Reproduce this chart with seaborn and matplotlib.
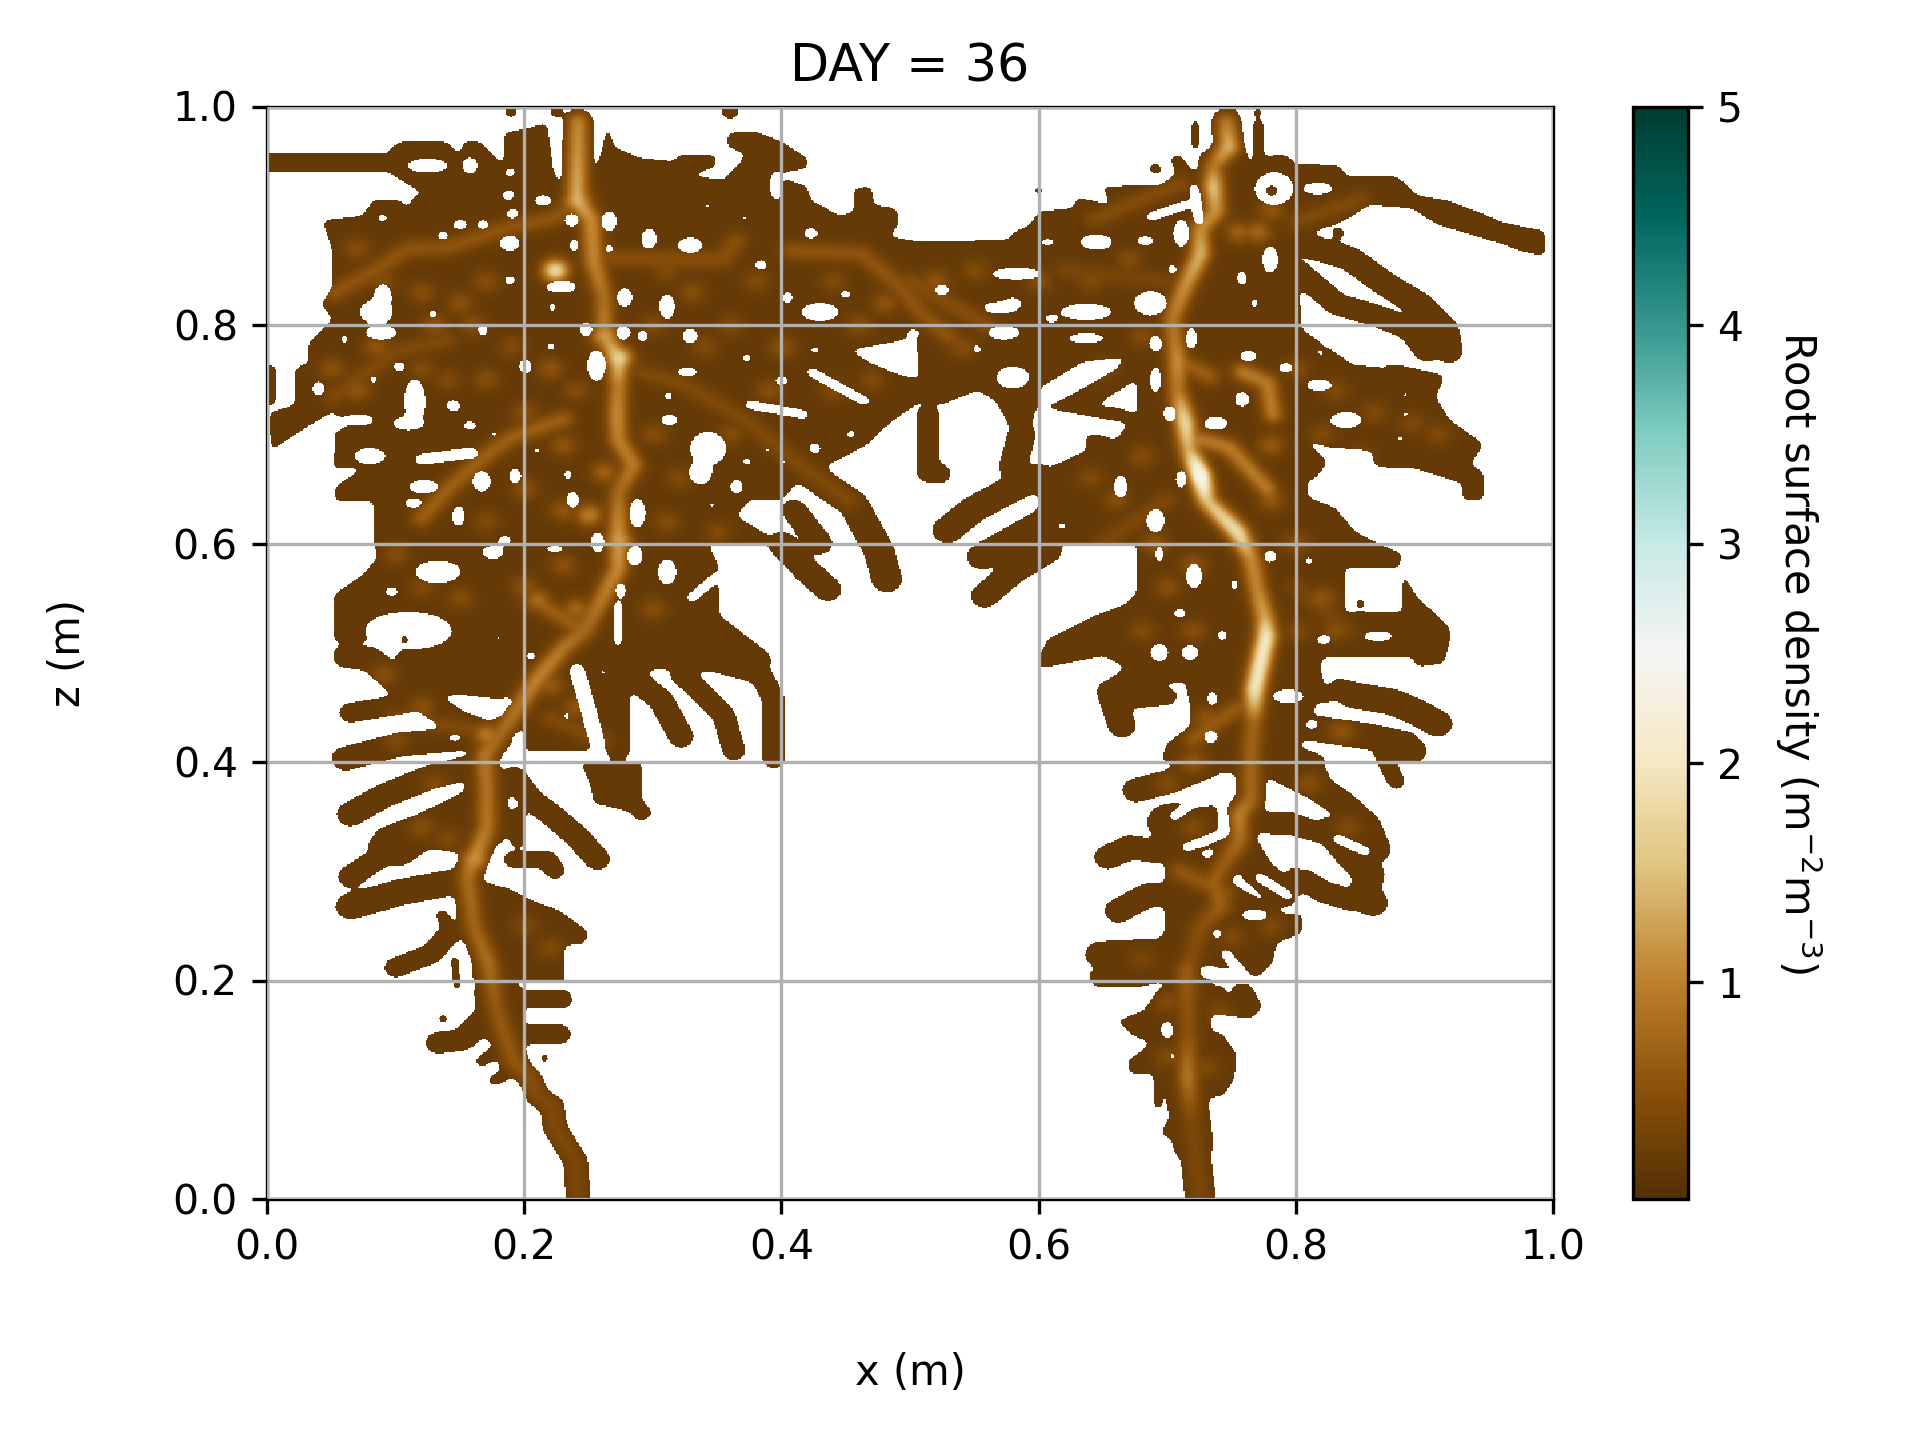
import numpy as np
import pandas as pd
import matplotlib
matplotlib.use("Agg")
import matplotlib.pyplot as plt
from matplotlib.path import Path
import seaborn as sns

TITLE = "DAY = 36"
XLABEL = "x (m)"
ZLABEL = "z (m)"
CBAR_LABEL = r"Root surface density (m$^{-2}$m$^{-3}$)"
AXIS_TICKS = [0.0, 0.2, 0.4, 0.6, 0.8, 1.0]
CBAR_TICKS = [1, 2, 3, 4, 5]
VMIN, VMAX = 0.01, 5.0
BASE_DENSITY = 0.17

# occupied regions: (x, z) outlines
region_top = [(.043,.896),(.074,.90),(.083,.915),(.104,.914),(.11,.907),(.114,.919),(.133,.917),(.135,.91),(.115,.925),(.094,.94),(0,.94),(0,.957),(.095,.957),(.097,.963),(.104,.968),(.14,.968),(.15,.956),(.153,.968),(.166,.968),(.184,.946),(.185,.976),(.198,.979),(.218,.985),(.223,.94),(.231,.92),(.233,.985),(.254,.985),(.254,.93),(.265,.984),(.27,.963),(.29,.953),(.316,.95),(.32,.956),(.348,.956),(.35,.945),(.327,.937),(.355,.933),(.373,.956),(.358,.963),(.358,.976),(.381,.977),(.40,.968),(.42,.953),(.42,.943),(.40,.94),(.404,.933),(.42,.927),(.423,.914),(.446,.90),(.456,.904),(.456,.925),(.47,.927),(.472,.91),(.489,.907),(.492,.894),(.484,.881),(.508,.876),(.575,.878),(.582,.886),(.593,.891),(.6,.904),(.627,.907),(.63,.917),(.657,.91),(.649,.927),(.694,.928),(.707,.938),(.702,.955),(.71,.956),(.723,.937),(.725,.956),(.735,.963),(.737,.989),(.756,.989),(.763,.95),(.77,.945),(.775,.955),(.792,.956),(.80,.948),(.834,.946),(.839,.937),(.878,.937),(.894,.919),(.918,.914),(.941,.904),(.961,.894),(.994,.886),(.994,.863),(.974,.868),(.961,.874),(.941,.881),(.91,.892),(.89,.907),(.857,.91),(.84,.897),(.80,.879),(.805,.79),(.60,.79),(.60,.73),(.592,.70),(.585,.69),(.567,.73),(.553,.74),(.524,.727),(.508,.73),(.485,.711),(.466,.69),(.437,.672),(.42,.665),(.40,.64),(.375,.64),(.365,.625),(.40,.60),(.083,.60),(.083,.639),(.053,.639),(.053,.652),(.075,.669),(.051,.669),(.053,.688),(.052,.70),(.065,.711),(.05,.72),(.029,.705),(.003,.685),(.002,.72),(.022,.727),(.022,.76),(.033,.767),(.032,.783),(.038,.79),(.051,.806),(.042,.819),(.051,.835),(.051,.868)]
region_left_mid = [(.052,.553),(.074,.571),(.086,.587),(.083,.602),(.342,.602),(.352,.577),(.352,.53),(.385,.49),(.352,.482),(.30,.485),(.28,.47),(.195,.47),(.16,.47),(.16,.48),(.112,.48),(.112,.51),(.052,.51)]
region_left_q = [(.2,.475),(.28,.475),(.28,.41),(.25,.41),(.2,.41)]
region_left_a = [(.078,.325),(.087,.339),(.117,.352),(.159,.376),(.159,.315),(.127,.321),(.107,.305),(.085,.305)]
region_left_b = [(.189,.284),(.205,.274),(.228,.264),(.251,.244),(.247,.234),(.231,.232),(.231,.197),(.198,.2),(.16,.2),(.16,.27),(.17,.29)]
region_left_c = [(.244,.399),(.291,.399),(.291,.366),(.301,.352),(.29,.345),(.28,.355),(.254,.362),(.251,.381)]
region_right_core = [(.60,.795),(.805,.795),(.81,.60),(.677,.60),(.61,.60),(.60,.615),(.60,.665),(.637,.685),(.637,.70),(.647,.70),(.66,.695),(.67,.71),(.60,.725)]
region_right_side = [(.80,.80),(.845,.763),(.882,.763),(.916,.754),(.909,.734),(.919,.714),(.946,.691),(.936,.672),(.946,.665),(.946,.64),(.929,.64),(.929,.655),(.892,.669),(.862,.67),(.858,.685),(.825,.688),(.805,.696),(.825,.675),(.815,.659),(.803,.656),(.81,.642),(.83,.633),(.847,.61),(.864,.60),(.884,.59),(.88,.58),(.893,.553),(.92,.522),(.92,.511),(.915,.49),(.894,.487),(.891,.496),(.824,.496),(.80,.48),(.78,.48),(.78,.80)]
region_right_low = [(.677,.61),(.676,.554),(.667,.544),(.644,.534),(.607,.512),(.598,.49),(.604,.486),(.65,.497),(.668,.487),(.652,.473),(.676,.467),(.714,.474),(.718,.45),(.718,.433),(.699,.416),(.696,.40),(.74,.39),(.79,.39),(.803,.40),(.805,.43),(.82,.46),(.82,.50),(.81,.61)]
region_right_b = [(.742,.295),(.762,.281),(.791,.261),(.805,.261),(.805,.244),(.785,.234),(.782,.217),(.77,.203),(.736,.213),(.73,.254)]
region_right_c = [(.661,.163),(.682,.173),(.694,.193),(.765,.197),(.774,.176),(.765,.165),(.731,.17),(.726,.153),(.742,.153),(.754,.132),(.752,.109),(.744,.095),(.731,.092),(.708,.088),(.704,.119),(.69,.116),(.671,.114),(.669,.126),(.688,.143),(.674,.149)]
regions = [region_top, region_left_mid, region_left_q, region_left_a, region_left_b, region_left_c,
           region_right_core, region_right_side, region_right_low, region_right_b, region_right_c]

# main roots: paths and the density along them
trunk_left = [(.242,.986),(.241,.914),(.252,.897),(.254,.858),(.262,.825),(.262,.79),(.273,.77),(.273,.744),(.272,.718),(.273,.695),(.285,.672),(.273,.646),(.273,.603),(.273,.577),(.247,.52),(.231,.505),(.211,.477),(.18,.423),(.169,.406),(.171,.376),(.171,.339),(.161,.311),(.156,.295),(.161,.25),(.172,.217),(.179,.173),(.182,.16),(.192,.126),(.205,.11),(.21,.095),(.222,.085),(.224,.065),(.232,.05),(.24,.035),(.242,.0)]
trunk_left_v = [1.1,1.45,1.15,1.1,.85,1.05,1.75,1.0,1.15,1.05,1.0,.8,1.3,1.15,.8,.95,1.1,.8,.95,.9,.95,1.2,.85,.75,.85,.6,.65,.62,.5,.45,.42,.42,.4,.38,.36]
trunk_left_upper = trunk_left[:28]
trunk_left_lower = trunk_left[27:]
trunk_right = [(.746,.986),(.748,.963),(.736,.946),(.736,.927),(.738,.904),(.726,.888),(.726,.865),(.714,.835),(.704,.806),(.706,.786),(.708,.767),(.708,.74),(.714,.711),(.717,.685),(.726,.662),(.731,.639),(.755,.61),(.765,.587),(.77,.558),(.776,.531),(.777,.515),(.768,.467),(.767,.436),(.765,.406),(.765,.366),(.756,.352),(.756,.328),(.745,.308),(.736,.291),(.742,.268),(.725,.247),(.719,.22),(.715,.21),(.716,.156),(.716,.112),(.719,.072),(.726,.0)]
trunk_right_v = [1.0,1.5,.9,1.65,1.2,1.15,1.5,1.2,.95,.95,1.2,.95,1.95,1.4,2.95,1.6,2.05,1.15,1.1,1.4,2.2,2.15,.75,.75,.8,1.05,.85,.65,.7,.7,.5,.45,.7,.5,.95,.4,.36]

strokes = [
 (.012, trunk_left_upper), (.0095, trunk_left_lower), (.012, trunk_right),
 (.017, [(.171,.376),(.171,.339)]), (.018, [(.179,.19),(.182,.16)]),
 (.016, [(.716,.09),(.72,.05)]),(.0105, [(.72,.05),(.726,.0)]),(.018, [(.716,.30),(.716,.10)]),
 (.009, [(.242,.99),(.241,.915)]),(.009, [(.746,.99),(.748,.96)]),
 (.004, [(.003,.73),(.003,.76)]),
 # left plant, lower left
 (.011, [(.065,.352),(.091,.369),(.127,.386),(.162,.396)]),
 (.011, [(.061,.403),(.104,.416),(.14,.42),(.166,.423)]),
 (.009, [(.065,.445),(.106,.453),(.127,.46)]),
 (.011, [(.062,.497),(.081,.494),(.107,.467),(.149,.436),(.179,.423)]),
 (.012, [(.112,.494),(.198,.497)]),
 (.012, [(.107,.467),(.149,.474),(.198,.467)]),
 (.010, [(.065,.295),(.09,.315),(.11,.32)]),
 (.012, [(.065,.268),(.104,.281),(.149,.291)]),
 (.009, [(.1,.212),(.127,.224),(.143,.244)]),
 (.005, [(.136,.26),(.143,.247)]),
 (.003, [(.146,.22),(.148,.193)]),
 # left plant, lower right
 (.010, [(.192,.386),(.205,.366),(.224,.349),(.241,.332),(.257,.311)]),
 (.006, [(.195,.352),(.195,.328)]),
 (.008, [(.192,.311),(.218,.311),(.224,.301)]),
 (.009, [(.198,.183),(.229,.183)]),
 (.009, [(.198,.151),(.228,.151)]),
 (.010, [(.133,.143),(.153,.146),(.169,.166),(.182,.173)]),
 (.005, [(.167,.126),(.179,.136)]),
 (.005, [(.177,.109),(.188,.115)]),
 # left plant, right of trunk
 (.009, [(.273,.487),(.273,.41)]),
 (.010, [(.273,.487),(.306,.457),(.322,.423)]),
 (.009, [(.322,.48),(.335,.467),(.355,.443),(.363,.41)]),
 (.009, [(.352,.49),(.384,.48),(.394,.457),(.394,.403)]),
 (.011, [(.29,.564),(.339,.531),(.381,.493)]),
 (.012, [(.42,.665),(.456,.636),(.476,.593),(.482,.567)]),
 (.011, [(.40,.60),(.42,.575),(.436,.558)]),
 (.010, [(.43,.60),(.41,.63)]),
 # middle legs
 (.009, [(.514,.718),(.514,.665),(.523,.664)]),
 (.011, [(.587,.70),(.58,.67)]),
 # right plant, left branches
 (.012, [(.529,.612),(.549,.631),(.576,.648),(.6,.661)]),
 (.012, [(.556,.588),(.6,.617),(.62,.63)]),
 (.011, [(.558,.552),(.58,.574),(.607,.593)]),
 (.011, [(.656,.464),(.665,.433)]),
 (.011, [(.676,.374),(.702,.382),(.731,.396)]),
 (.011, [(.654,.313),(.671,.322),(.696,.318),(.748,.338)]),
 (.016, [(.70,.345),(.72,.35),(.745,.345)]),
 (.011, [(.662,.264),(.685,.278),(.728,.281),(.742,.301),(.756,.328)]),
 (.012, [(.648,.224),(.699,.227),(.719,.247)]),
 (.009, [(.648,.203),(.676,.203),(.707,.21)]),
 (.003, [(.692,.119),(.693,.085)]),
 (.006, [(.702,.062),(.708,.072)]),
 (.008, [(.66,.455),(.70,.46)]),
 # right plant, right branches
 (.011, [(.805,.874),(.842,.861),(.869,.838),(.896,.819),(.916,.796),(.919,.776)]),
 (.010, [(.803,.848),(.832,.819),(.862,.809),(.889,.796),(.902,.776)]),
 (.012, [(.80,.47),(.83,.465),(.85,.46),(.875,.455),(.895,.445),(.91,.435)]),
 (.012, [(.802,.433),(.857,.423),(.885,.416),(.89,.41)]),
 (.007, [(.868,.406),(.878,.382)]),
 (.008, [(.80,.406),(.815,.40)]),
 (.012, [(.788,.393),(.817,.376),(.835,.362),(.854,.342),(.862,.32)]),
 (.012, [(.768,.345),(.799,.345),(.828,.335),(.845,.311),(.857,.298),(.854,.281),(.86,.271)]),
 (.010, [(.802,.295),(.822,.281),(.842,.274),(.862,.271)]),
 (.013, [(.755,.33),(.77,.30),(.79,.28)]),
 # thin upper islands
 (.003, [(.722,.985),(.722,.963)]),
 (.004, [(.771,.985),(.771,.95)]),
]

# white gaps: (half width, path)
gaps = [
 (.004, [(.423,.757),(.465,.73)]), (.004, [(.375,.727),(.418,.718)]),
 (.005, [(.12,.677),(.16,.683)]), (.004, [(.33,.55),(.35,.57)]),
 (.004, [(.687,.899),(.714,.91)]), (.004, [(.721,.925),(.725,.895)]),
 (.004, [(.824,.796),(.859,.765)]),
 (.006, [(.241,.484),(.251,.443),(.257,.416)]),
 (.004, [(.782,.376),(.78,.358),(.799,.358),(.817,.35)]),
 (.004, [(.715,.322),(.745,.335),(.742,.365),(.72,.362),(.705,.35)]),
 (.004, [(.774,.332),(.797,.322),(.804,.305),(.826,.308)]),
 (.004, [(.832,.33),(.855,.318)]), (.004, [(.771,.295),(.794,.278)]),
 (.004, [(.745,.225),(.76,.205)]),
 (.003, [(.273,.545),(.273,.508)]),
]
gap_polygons = [
 [(.602,.743),(.634,.766),(.668,.771),(.661,.76),(.627,.737),(.602,.723)],
 [(.644,.726),(.676,.75),(.677,.718),(.66,.725)],
 [(.453,.777),(.49,.785),(.505,.79),(.507,.75),(.49,.755),(.47,.765)],
 [(.838,.537),(.883,.537),(.883,.578),(.838,.578)],
]
# white holes: (x, z, x radius, z radius)
holes = [(.125,.946,.016,.005),(.158,.946,.005,.007),(.189,.94,.004,.003),(.188,.919,.004,.004),(.191,.902,.004,.004),(.15,.892,.006,.003),(.168,.892,.005,.003),(.137,.882,.004,.003),(.189,.875,.007,.006),(.09,.898,.003,.003),(.071,.866,.002,.002),(.181,.86,.002,.002),(.189,.841,.004,.003),(.215,.914,.006,.004),(.237,.896,.005,.005),(.255,.91,.002,.002),(.266,.895,.005,.009),(.239,.873,.003,.005),(.266,.87,.003,.003),(.229,.835,.012,.004),(.248,.826,.002,.002),(.222,.816,.002,.004),(.278,.825,.005,.008),(.297,.879,.005,.009),(.329,.873,.009,.006),(.313,.888,.002,.001),(.342,.909,.003,.002),(.371,.898,.003,.002),(.364,.857,.002,.002),(.384,.855,.004,.004),(.311,.817,.005,.011),(.353,.817,.001,.001),(.342,.807,.002,.002),(.405,.825,.003,.005),(.45,.828,.004,.003),(.43,.812,.014,.007),(.423,.884,.005,.004),(.444,.883,.002,.002),(.396,.928,.004,.013),(.085,.812,.012,.01),(.09,.825,.006,.012),(.089,.793,.012,.005),(.129,.81,.003,.003),(.168,.796,.003,.005),(.06,.787,.002,.004),(.066,.775,.002,.002),(.103,.762,.004,.004),(.083,.75,.003,.003),(.04,.742,.004,.006),(.156,.786,.001,.002),(.221,.78,.002,.004),(.201,.762,.004,.006),(.248,.796,.004,.006),(.277,.793,.005,.006),(.292,.79,.003,.005),(.329,.79,.005,.006),(.256,.763,.006,.014),(.286,.769,.001,.001),(.327,.757,.008,.003),(.373,.77,.003,.003),(.426,.777,.004,.002),(.40,.749,.005,.003),(.362,.739,.002,.002),(.312,.735,.003,.003),(.16,.738,.002,.002),(.145,.726,.005,.004),(.115,.73,.007,.02),(.11,.71,.012,.005),(.071,.713,.012,.004),(.158,.708,.005,.003),(.177,.70,.003,.002),(.21,.685,.003,.002),(.208,.668,.001,.001),(.313,.713,.006,.004),(.343,.687,.013,.014),(.337,.665,.008,.01),(.303,.682,.001,.004),(.373,.675,.003,.003),(.389,.686,.003,.002),(.365,.652,.004,.006),(.346,.635,.003,.002),(.402,.675,.003,.002),(.426,.687,.004,.004),(.454,.70,.003,.003),(.473,.717,.002,.002),(.489,.694,.002,.002),(.193,.662,.004,.006),(.167,.657,.006,.009),(.234,.663,.002,.005),(.238,.64,.004,.007),(.149,.625,.004,.009),(.288,.628,.005,.013),(.257,.601,.004,.009),(.286,.589,.005,.009),(.176,.592,.008,.005),(.185,.603,.005,.003),(.224,.595,.008,.002),(.133,.574,.017,.009),(.097,.556,.005,.003),(.275,.557,.003,.006),(.311,.574,.006,.011),(.172,.566,.001,.001),(.18,.513,.003,.002),(.205,.497,.005,.002),(.11,.52,.033,.016),(.122,.652,.011,.005),(.114,.637,.007,.003),(.08,.68,.012,.006),
 (.152,.453,.002,.002),(.176,.447,.008,.006),(.187,.455,.004,.003),(.196,.42,.004,.006),(.146,.422,.006,.002),(.261,.482,.002,.003),(.233,.442,.002,.004),
 (.783,.925,.014,.014),(.817,.925,.012,.004),(.711,.884,.005,.012),(.683,.877,.007,.003),(.645,.876,.012,.006),(.607,.876,.006,.002),(.633,.901,.002,.002),(.78,.86,.005,.012),(.758,.843,.003,.006),(.704,.851,.003,.004),(.655,.848,.002,.002),(.583,.847,.02,.004),(.525,.832,.005,.004),(.57,.816,.013,.004),(.58,.819,.006,.005),(.637,.812,.02,.006),(.61,.806,.005,.003),(.687,.82,.012,.01),(.768,.82,.002,.004),(.788,.818,.002,.002),(.806,.82,.002,.002),(.719,.788,.003,.01),(.691,.783,.004,.007),(.637,.788,.015,.003),(.573,.793,.012,.005),(.552,.778,.003,.003),(.534,.768,.002,.002),(.595,.777,.002,.002),(.503,.793,.005,.002),(.58,.752,.012,.009),(.763,.772,.006,.004),(.792,.761,.006,.003),(.691,.75,.003,.012),(.758,.732,.005,.006),(.702,.719,.004,.007),(.738,.71,.009,.005),(.818,.745,.01,.004),(.806,.727,.002,.001),(.839,.713,.012,.006),(.819,.775,.002,.003),(.877,.775,.003,.003),(.867,.757,.002,.002),(.859,.737,.002,.002),(.869,.728,.002,.002),(.885,.736,.003,.002),(.897,.728,.002,.002),(.885,.718,.003,.002),(.9,.708,.002,.002),(.881,.696,.003,.002),(.896,.684,.002,.002),(.711,.659,.003,.008),(.74,.659,.001,.002),(.664,.652,.004,.01),(.615,.656,.002,.002),(.618,.616,.004,.002),(.691,.621,.006,.01),(.696,.647,.001,.002),(.778,.67,.001,.001),(.778,.619,.002,.002),(.694,.59,.002,.008),(.78,.588,.004,.005),(.81,.584,.002,.004),(.721,.57,.005,.011),(.752,.562,.002,.005),(.71,.536,.004,.004),(.743,.516,.003,.004),(.654,.515,.002,.002),(.665,.503,.002,.002),(.694,.50,.006,.007),(.718,.50,.006,.006),(.822,.512,.006,.003),(.864,.515,.012,.003),(.899,.505,.002,.002),
 (.735,.458,.003,.006),(.794,.46,.012,.005),(.752,.435,.002,.002),(.734,.423,.005,.005),(.825,.474,.004,.002),(.83,.448,.006,.007),(.812,.434,.005,.003),(.742,.377,.005,.007),(.835,.295,.004,.001),(.768,.26,.01,.004),(.739,.243,.003,.004),(.73,.208,.004,.005),(.748,.192,.002,.003),(.704,.131,.002,.003),(.684,.221,.003,.001),(.70,.155,.004,.007)]
# isolated specks drawn back on top of the gaps: (x, z, radius)
specks = [(.216,.129,.003),(.236,.096,.002),(.246,.076,.002),(.197,.077,.002),(.256,.045,.002),(.218,.027,.002),(.137,.165,.003),(.118,.246,.002),(.781,.923,.004),(.691,.943,.004),(.833,.884,.004),(.751,.067,.002),(.75,.038,.001),(.821,.389,.004),(.107,.512,.003),(.33,.525,.003),(.35,.508,.003),(.37,.495,.002),(.85,.545,.003),(.60,.923,.003),(.19,.995,.004),(.225,.995,.004),(.36,.996,.006),(.75,.995,.003),(.77,.995,.003)]

# brighter ridges inside the roots: (value, path)
ridges = [
 (.58, [(.052,.829),(.081,.848),(.11,.87),(.14,.871),(.162,.879),(.19,.89),(.221,.897),(.24,.91)]),
 (.52, [(.264,.861),(.355,.86),(.365,.878)]),
 (.58, [(.407,.868),(.463,.865),(.492,.835),(.508,.812),(.53,.79)]),
 (.72, [(.231,.714),(.192,.698),(.172,.682),(.143,.652),(.12,.623)]),
 (.42, [(.29,.757),(.322,.747),(.371,.714),(.414,.672),(.453,.639)]),
 (.42, [(.052,.734),(.10,.776),(.14,.786)]),
 (.70, [(.208,.548),(.244,.522)]),
 (.42, [(.10,.44),(.16,.43)]), (.42, [(.22,.44),(.26,.42)]),
 (1.0, [(.717,.69),(.727,.695),(.748,.688),(.778,.65)]),
 (.7, [(.706,.77),(.733,.753)]),
 (1.0, [(.758,.757),(.778,.747),(.782,.718)]),
 (.42, [(.80,.895),(.85,.915)]),
 (.45, [(.644,.897),(.711,.93)]),
 (.48, [(.50,.84),(.56,.80)]),
 (.36, [(.62,.85),(.70,.84)]),
 (.40, [(.65,.60),(.70,.64)]),
 (.36, [(.80,.56),(.84,.52)]),
 (.65, [(.755,.45),(.72,.42)]),
 (.62, [(.71,.30),(.745,.28)]),
]
# single bright patches: (x, z, value)
patches = [(.224,.85,2.0),(.25,.626,1.05),(.262,.665,.75),(.21,.548,.85),(.24,.54,.8),(.78,.64,.65),(.17,.425,1.0),(.835,.428,.6),
 (.273,.77,1.9),(.262,.79,1.35),(.273,.603,1.35),(.241,.914,1.5),(.161,.311,1.25),(.78,.905,.6),(.755,.885,.75),(.77,.885,.8),
 (.07,.87,.5),(.09,.84,.46),(.12,.83,.5),(.15,.82,.55),(.17,.84,.5),(.13,.80,.58),(.16,.80,.5),(.085,.78,.6),(.12,.76,.46),(.05,.76,.55),(.07,.74,.6),(.14,.75,.44),(.17,.75,.5),(.19,.78,.44),(.22,.76,.58),(.24,.74,.48),(.20,.72,.5),(.23,.69,.6),(.20,.65,.55),(.23,.63,.6),(.17,.62,.44),(.30,.80,.46),(.33,.83,.5),(.31,.85,.44),(.38,.84,.46),(.36,.80,.44),(.40,.78,.55),(.34,.78,.44),(.30,.70,.5),(.32,.66,.44),(.36,.70,.46),(.39,.74,.5),(.31,.62,.48),(.35,.61,.44),(.44,.74,.44),(.46,.80,.5),(.47,.75,.44),(.44,.84,.44),(.48,.82,.58),(.52,.84,.6),(.55,.85,.46),(.54,.78,.5),(.60,.84,.48),(.64,.84,.44),(.67,.86,.48),(.68,.79,.46),(.65,.76,.42),
 (.80,.76,.46),(.83,.74,.44),(.86,.72,.44),(.89,.71,.42),(.91,.70,.44),(.85,.68,.42),(.82,.70,.44),(.78,.69,.65),(.68,.68,.5),(.66,.64,.5),(.64,.66,.44),(.69,.60,.6),(.72,.58,.6),(.70,.56,.5),(.80,.60,.5),(.82,.55,.6),(.83,.52,.5),(.80,.52,.44),(.72,.52,.5),(.68,.52,.46),(.88,.48,.42),(.73,.44,.6),(.72,.40,.65),(.70,.38,.46),(.81,.38,.5),(.84,.34,.42),(.72,.34,.46),(.78,.25,.42),(.75,.24,.42),(.68,.22,.38),(.70,.18,.44),(.74,.17,.42),(.73,.12,.42),(.70,.13,.44),(.20,.25,.42),(.22,.23,.44),(.14,.33,.44),(.12,.34,.5),(.13,.38,.46),(.10,.42,.44),(.12,.45,.55),(.09,.48,.5),(.22,.47,.65),(.24,.45,.6),(.30,.54,.5),(.15,.55,.48),(.10,.59,.5),(.12,.56,.44),(.20,.56,.55),(.23,.58,.55)]

NX, NZ = 964, 819
xs = (np.arange(NX) + .5) / NX
zs = (np.arange(NZ) + .5) / NZ
GX, GZ = np.meshgrid(xs, zs)


def seg_pieces(path, pad):
    for (x0, z0), (x1, z1) in zip(path[:-1], path[1:]):
        i0 = max(int((min(x0, x1) - pad) * NX), 0); i1 = min(int((max(x0, x1) + pad) * NX) + 2, NX)
        j0 = max(int((min(z0, z1) - pad) * NZ), 0); j1 = min(int((max(z0, z1) + pad) * NZ) + 2, NZ)
        sx, sz = GX[j0:j1, i0:i1], GZ[j0:j1, i0:i1]
        dx, dz = x1 - x0, z1 - z0
        t = np.clip(((sx - x0) * dx + (sz - z0) * dz) / max(dx * dx + dz * dz, 1e-12), 0, 1)
        yield (j0, j1, i0, i1), np.hypot(sx - x0 - t * dx, sz - z0 - t * dz), t


def paint(mask, path, h, value):
    for (j0, j1, i0, i1), d, _ in seg_pieces(path, h):
        mask[j0:j1, i0:i1][d <= h] = value


def blur(a, sigma):
    r = int(3 * sigma) + 1
    k = np.exp(-.5 * (np.arange(-r, r + 1) / sigma) ** 2); k /= k.sum()
    a = np.apply_along_axis(lambda m: np.convolve(np.pad(m, r, mode="edge"), k, mode="valid"), 0, a)
    return np.apply_along_axis(lambda m: np.convolve(np.pad(m, r, mode="edge"), k, mode="valid"), 1, a)


def ellipse(mask, x, z, rx, rz, value):
    rx += .0012; rz += .0012
    mask[((GX - x) / rx) ** 2 + ((GZ - z) / rz) ** 2 <= 1] = value


occupied = np.zeros((NZ, NX), bool)
pts = np.column_stack([GX.ravel(), GZ.ravel()])
for poly in regions:
    occupied |= Path(poly).contains_points(pts).reshape(occupied.shape)
for h, path in strokes:
    paint(occupied, path, h, True)
for poly in gap_polygons:
    occupied &= ~Path(poly).contains_points(pts).reshape(occupied.shape)
for h, path in gaps:
    paint(occupied, path, h, False)
for x, z, rx, rz in holes:
    ellipse(occupied, x, z, rx, rz, False)
for x, z, r in specks:
    ellipse(occupied, x, z, r, r, True)
occupied = blur(occupied.astype(float), 2.6) > .5

field = np.full((NZ, NX), BASE_DENSITY)


def ridge(path, values, s):
    for k, ((j0, j1, i0, i1), d, t) in enumerate(seg_pieces(path, 3 * s)):
        v = values[k] + (values[k + 1] - values[k]) * t
        amp = BASE_DENSITY + (v - BASE_DENSITY) * np.exp(-(d / s) ** 2)
        field[j0:j1, i0:i1] = np.maximum(field[j0:j1, i0:i1], amp)


ridge(trunk_left, trunk_left_v, .0075)
ridge(trunk_right, trunk_right_v, .0075)
for v, path in ridges:
    ridge(path, [v] * len(path), .0075)
for x, z, v in patches:
    ridge([(x, z), (x + .001, z)], [v, v], .009)
field = blur(field, 2.5)

frame = pd.DataFrame(field, index=zs, columns=xs)

fig = plt.figure(figsize=(6.4, 4.8), dpi=300)
ax = fig.add_axes([267 / 1920, 1 - 1199 / 1440, 1286 / 1920, 1092.5 / 1440])
cax = fig.add_axes([1633 / 1920, 1 - 1199 / 1440, 55 / 1920, 1092.5 / 1440])

sns.heatmap(frame, mask=~occupied, cmap="BrBG", vmin=VMIN, vmax=VMAX, ax=ax, cbar_ax=cax,
            xticklabels=False, yticklabels=False, cbar_kws={"ticks": CBAR_TICKS}, rasterized=True)
ax.set_xlim(0, NX)
ax.set_ylim(0, NZ)
ax.set_xticks([t * NX for t in AXIS_TICKS], [f"{t:.1f}" for t in AXIS_TICKS], rotation=0)
ax.set_yticks([t * NZ for t in AXIS_TICKS], [f"{t:.1f}" for t in AXIS_TICKS], rotation=0)
ax.tick_params(axis="both", length=3.5, width=.8, labelsize=9.8, left=True, bottom=True)
ax.set_axisbelow(False)
ax.grid(True, color="#b0b0b0", linewidth=.8)
for s in ax.spines.values():
    s.set_visible(True); s.set_linewidth(.8); s.set_color("black")
ax.set_title(TITLE, fontsize=12.2)
ax.set_xlabel(XLABEL, fontsize=10, labelpad=20)
ax.set_ylabel(ZLABEL, fontsize=10, labelpad=20)

cb = ax.collections[0].colorbar
cb.outline.set_visible(True); cb.outline.set_linewidth(.8); cb.outline.set_edgecolor("black")
cb.ax.tick_params(length=3.5, width=.8, labelsize=9.8)
cb.set_label(CBAR_LABEL, rotation=270, fontsize=10, labelpad=19.5)

fig.savefig("out.png", dpi=300, facecolor="white")
